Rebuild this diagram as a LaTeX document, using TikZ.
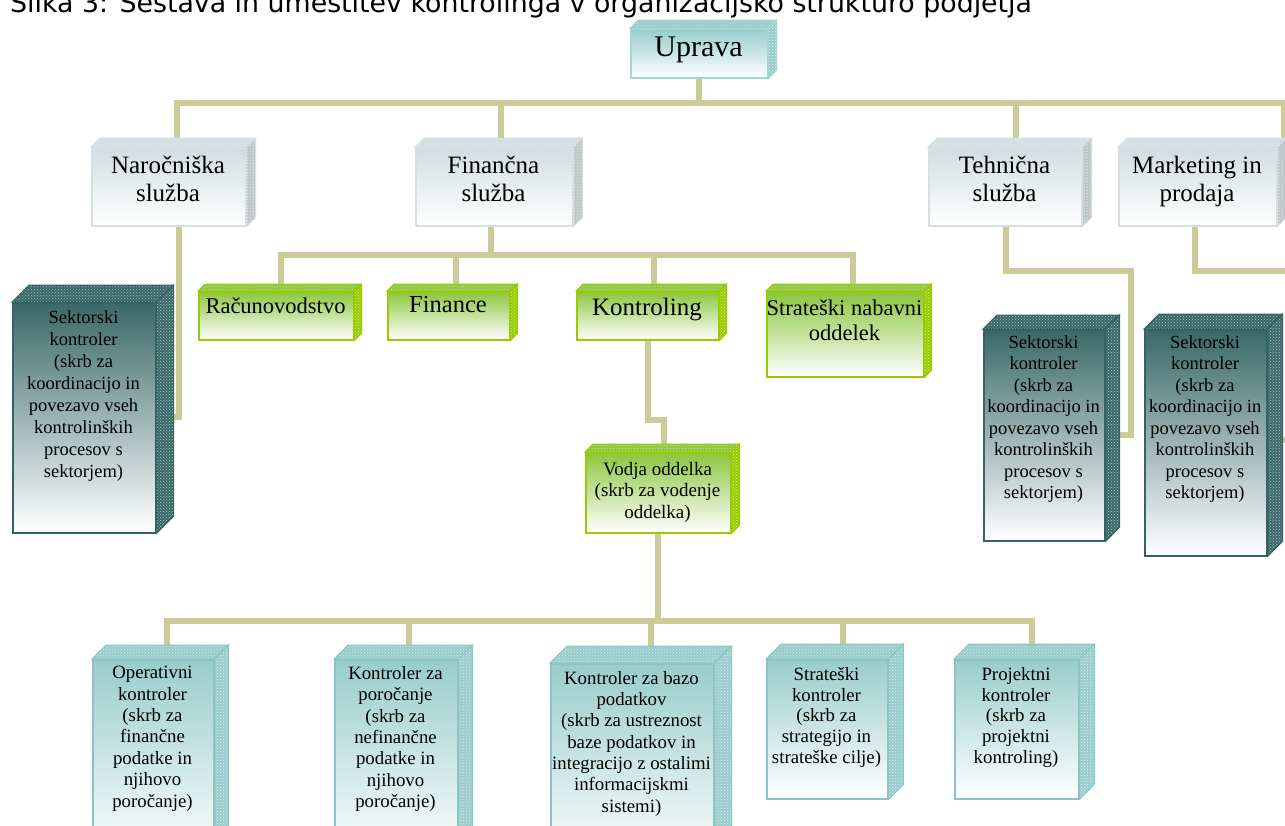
\documentclass[tikz,border=0pt]{standalone}
\usepackage{fontspec}
\setmainfont{Liberation Serif}
\newfontfamily\titlefont{DejaVu Sans}
\usetikzlibrary{patterns,backgrounds}
\newcommand\fsz[2]{\fontsize{#1pt}{#2pt}\selectfont}
\definecolor{lineC}{RGB}{204,204,153}
\definecolor{uprT}{RGB}{150,204,204}
\definecolor{uprB}{RGB}{165,212,212}
\definecolor{gryT}{RGB}{210,221,223}
\definecolor{gryB}{RGB}{214,224,226}
\definecolor{gryS}{RGB}{190,196,198}
\definecolor{grnT}{RGB}{140,198,63}
\definecolor{grnB}{RGB}{153,204,0}
\definecolor{sekT}{RGB}{58,104,104}
\definecolor{sekB}{RGB}{51,100,100}
\definecolor{botT}{RGB}{153,204,204}
\definecolor{botB}{RGB}{140,196,196}
\newcommand\cubefaces[5]{%
  \fill[#3] (#1.north west) -- ([shift={(#2,-#2)}]#1.north west) -- ([shift={(#2,-#2)}]#1.north east) -- (#1.north east) -- cycle;
  \path[pattern=crosshatch dots, pattern color=white!55!#3, draw=#5, line width=1pt] (#1.north west) -- ([shift={(#2,-#2)}]#1.north west) -- ([shift={(#2,-#2)}]#1.north east) -- (#1.north east) -- cycle;
  \fill[#4] (#1.north east) -- ([shift={(#2,-#2)}]#1.north east) -- ([shift={(#2,-#2)}]#1.south east) -- (#1.south east) -- cycle;
  \path[pattern=crosshatch dots, pattern color=white!65!#4, draw=#5, line width=1pt] (#1.north east) -- ([shift={(#2,-#2)}]#1.north east) -- ([shift={(#2,-#2)}]#1.south east) -- (#1.south east) -- cycle;
}
\tikzset{
  front/.style={draw, line width=1.5pt, inner sep=0pt, anchor=north west},
  upr/.style={front, draw=uprB, top color=uprT, bottom color=white},
  gry/.style={front, draw=gryB, top color=gryT, bottom color=white},
  grn/.style={front, draw=grnB, top color=grnT, bottom color=white},
  sek/.style={front, draw=sekB, top color=sekT, bottom color=white},
  bot/.style={front, draw=botB, top color=botT, bottom color=white},
  txt/.style={anchor=north, inner sep=0pt, align=center, text=black},
  conn/.style={draw=lineC, line width=6pt},
}
\begin{document}
\begin{tikzpicture}[x=1pt, y=-1pt]
\useasboundingbox (0,0) rectangle (1285,825);
\clip (0,0) rectangle (1285,825);
\node[anchor=base west, inner sep=0pt, font=\titlefont\fsz{26.8}{30}] (title) at (10,12) {Slika 3: Sestava in umestitev kontrolinga v organizacijsko strukturo podjetja};
% front faces
\node[upr, minimum width=137pt, minimum height=49pt] (upr) at (630,28) {};
\node[gry, minimum width=154pt, minimum height=78pt] (nar) at (91,147) {};
\node[gry, minimum width=157pt, minimum height=78pt] (fin) at (415,147) {};
\node[gry, minimum width=153pt, minimum height=78pt] (teh) at (928,147) {};
\node[gry, minimum width=158pt, minimum height=78pt] (mkt) at (1118,147) {};
\node[grn, minimum width=155pt, minimum height=48pt] (rac) at (198,291) {};
\node[grn, minimum width=122pt, minimum height=48pt] (fnc) at (387,291) {};
\node[grn, minimum width=142pt, minimum height=48pt] (kon) at (576,291) {};
\node[grn, minimum width=157pt, minimum height=85pt] (snab) at (766,291) {};
\node[sek, minimum width=143pt, minimum height=230pt] (sekL) at (12,302) {};
\node[sek, minimum width=121pt, minimum height=211pt] (sek2) at (983,329) {};
\node[sek, minimum width=122pt, minimum height=226pt] (sek3) at (1144,329) {};
\node[grn, minimum width=145pt, minimum height=80pt] (vod) at (585,452) {};
\node[bot, minimum width=121pt, minimum height=200pt] (op) at (92,659) {};
\node[bot, minimum width=123pt, minimum height=200pt] (por) at (334,659) {};
\node[bot, minimum width=163pt, minimum height=200pt] (baz) at (550,663) {};
\node[bot, minimum width=121pt, minimum height=139pt] (str) at (766,659) {};
\node[bot, minimum width=124pt, minimum height=139pt] (prj) at (954,659) {};
% 3D faces
\cubefaces{upr}{8}{uprT}{uprT}{uprB}
\cubefaces{nar}{9}{gryT}{gryS}{gryB}
\cubefaces{fin}{9}{gryT}{gryS}{gryB}
\cubefaces{teh}{9}{gryT}{gryS}{gryB}
\cubefaces{mkt}{9}{gryT}{gryS}{gryB}
\cubefaces{rac}{7}{grnT}{grnB}{grnB}
\cubefaces{fnc}{7}{grnT}{grnB}{grnB}
\cubefaces{kon}{7}{grnT}{grnB}{grnB}
\cubefaces{snab}{7}{grnT}{grnB}{grnB}
\cubefaces{vod}{8}{grnT}{grnB}{grnB}
\cubefaces{sekL}{17}{sekT}{sekT}{sekB}
\cubefaces{sek2}{14}{sekT}{sekT}{sekB}
\cubefaces{sek3}{15}{sekT}{sekT}{sekB}
\cubefaces{op}{14}{botT}{botT}{botB}
\cubefaces{por}{14}{botT}{botT}{botB}
\cubefaces{baz}{17}{botT}{botT}{botB}
\cubefaces{str}{15}{botT}{botT}{botB}
\cubefaces{prj}{15}{botT}{botT}{botB}
% texts
\node[txt, font=\fsz{30}{34}] (upr-t) at (698.5,37) {Uprava};
\node[txt, font=\fsz{25}{28}] (nar-t) at (168,156) {Naročniška\\služba};
\node[txt, font=\fsz{25}{28}] (fin-t) at (493.5,156) {Finančna\\služba};
\node[txt, font=\fsz{25}{28}] (teh-t) at (1004.5,156) {Tehnična\\služba};
\node[txt, font=\fsz{25}{28}] (mkt-t) at (1197,156) {Marketing in\\prodaja};
\node[txt, font=\fsz{22.5}{25}] (rac-t) at (275.5,297.7) {Računovodstvo};
\node[txt, font=\fsz{24.5}{27}] (fnc-t) at (448,296.3) {Finance};
\node[txt, font=\fsz{25}{28}] (kon-t) at (647,298) {Kontroling};
\node[txt, font=\fsz{22.5}{25}] (snab-t) at (844.5,299.7) {Strateški nabavni\\oddelek};
\node[txt, font=\fsz{18.5}{22}] (sekL-t) at (83.5,310.4) {Sektorski\\kontroler\\(skrb za\\koordinacijo in\\povezavo vseh\\kontrolinških\\procesov s\\sektorjem)};
\node[txt, font=\fsz{18.5}{21.5}] (sek2-t) at (1043.5,335.4) {Sektorski\\kontroler\\(skrb za\\koordinacijo in\\povezavo vseh\\kontrolinških\\procesov s\\sektorjem)};
\node[txt, font=\fsz{18.5}{21.5}] (sek3-t) at (1205,335.4) {Sektorski\\kontroler\\(skrb za\\koordinacijo in\\povezavo vseh\\kontrolinških\\procesov s\\sektorjem)};
\node[txt, font=\fsz{19}{21.5}] (vod-t) at (657.5,462) {Vodja oddelka\\(skrb za vodenje\\oddelka)};
\node[txt, font=\fsz{18.8}{21.4}] (op-t) at (152.5,666) {Operativni\\kontroler\\(skrb za\\finančne\\podatke in\\njihovo\\poročanje)};
\node[txt, font=\fsz{18.8}{21.4}] (por-t) at (395.5,666) {Kontroler za\\poročanje\\(skrb za\\nefinančne\\podatke in\\njihovo\\poročanje)};
\node[txt, font=\fsz{18.8}{21.3}] (baz-t) at (631.5,671) {Kontroler za bazo\\podatkov\\(skrb za ustreznost\\baze podatkov in\\integracijo z ostalimi\\informacijskmi\\sistemi)};
\node[txt, font=\fsz{18.8}{20.8}] (str-t) at (826.5,667) {Strateški\\kontroler\\(skrb za\\strategijo in\\strateške cilje)};
\node[txt, font=\fsz{18.8}{20.8}] (prj-t) at (1016,667) {Projektni\\kontroler\\(skrb za\\projektni\\kontroling)};
% connectors
\begin{pgfonlayer}{background}
\draw[conn] (upr.south) -- ++(0,26);
\draw[conn] ([xshift=8pt]nar.north) -- ++(0,-44) -| ([xshift=86pt]mkt.north);
\draw[conn] ([xshift=6.5pt]fin.north) -- ++(0,-44);
\draw[conn] ([xshift=10.5pt]teh.north) -- ++(0,-44);
\draw[conn] ([xshift=10pt]nar.south) |- (sekL.east |- 0,417);
\draw[conn] ([xshift=-3pt]fin.south) -- ++(0,30);
\draw[conn] ([xshift=4.5pt]rac.north) -- ++(0,-36) -| ([xshift=7.5pt]snab.north);
\draw[conn] ([xshift=7pt]fnc.north) -- ++(0,-36);
\draw[conn] ([xshift=6pt]kon.north) -- ++(0,-36);
\draw[conn] (kon.south) -- ++(0,79) -| ([xshift=5.5pt]vod.north);
\draw[conn] (vod.south) -- ++(0,89);
\draw[conn] ([xshift=13.5pt]op.north) -- ++(0,-38) -| ([xshift=15pt]prj.north);
\draw[conn] ([xshift=12.5pt]por.north) -- ++(0,-38);
\draw[conn] ([xshift=18.5pt]baz.north) -- ++(0,-42);
\draw[conn] ([xshift=15.5pt]str.north) -- ++(0,-38);
\draw[conn] ([xshift=0.5pt]teh.south) -- ++(0,44) -- ++(125,0) |- (sek2.east |- 0,435);
\draw[conn] ([xshift=-3pt]mkt.south) -- ++(0,44) -- ++(106,0) |- (sek3.east |- 0,440);
\end{pgfonlayer}
\end{tikzpicture}
\end{document}
